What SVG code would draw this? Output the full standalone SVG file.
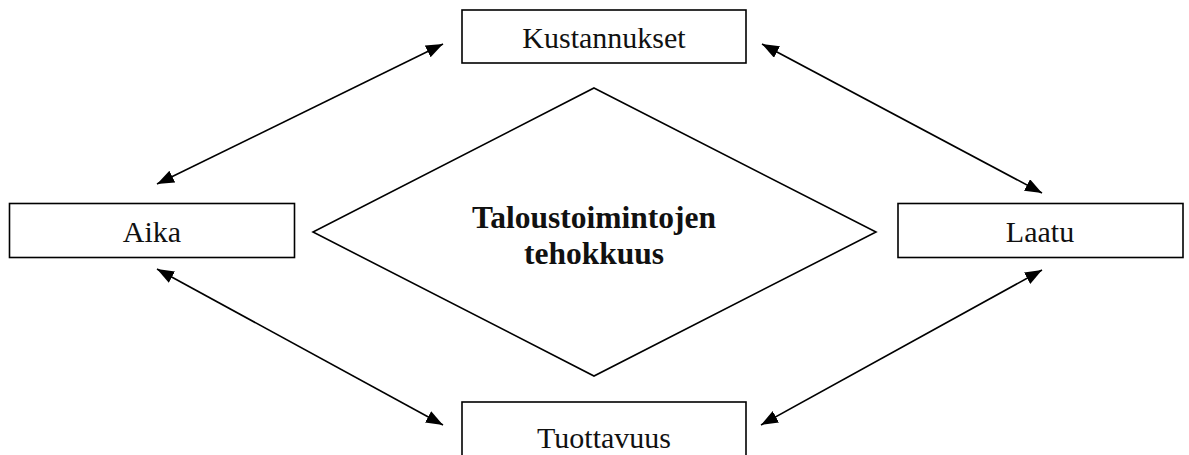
<svg xmlns="http://www.w3.org/2000/svg" width="1189" height="455" viewBox="0 0 1189 455">
  <style>
    .box { fill: #ffffff; stroke: #000000; stroke-width: 1.6; }
    .label { font-family: "Liberation Serif", "Times New Roman", serif; font-size: 30px; fill: #111111; text-anchor: middle; }
    .title { font-family: "Liberation Serif", "Times New Roman", serif; font-size: 31.5px; font-weight: bold; fill: #111111; text-anchor: middle; }
    .link { fill: none; stroke: #000000; stroke-width: 1.6; marker-start: url(#head); marker-end: url(#head); }
  </style>
  <defs>
    <marker id="head" markerUnits="userSpaceOnUse" markerWidth="18" markerHeight="14" refX="17" refY="6.5" orient="auto-start-reverse">
      <path d="M0,0 L17,6.5 L0,13 Z" fill="#000000"/>
    </marker>
  </defs>

  <!-- two-way relations between the four factors -->
  <g id="connectors">
    <line class="link" x1="157" y1="184" x2="443" y2="44"/>
    <line class="link" x1="762" y1="44" x2="1042" y2="193"/>
    <line class="link" x1="157" y1="269" x2="443" y2="425"/>
    <line class="link" x1="761" y1="425" x2="1042" y2="270"/>
  </g>

  <g id="center">
    <polygon points="594,88 876,232 594,376 313,232" fill="#ffffff" stroke="#000000" stroke-width="1.6"/>
    <text class="title" x="594" y="228">Taloustoimintojen</text>
    <text class="title" x="594" y="264">tehokkuus</text>
  </g>

  <g id="kustannukset">
    <rect class="box" x="462" y="10" width="284" height="53"/>
    <text class="label" x="604" y="48">Kustannukset</text>
  </g>

  <g id="aika">
    <rect class="box" x="9.5" y="203.5" width="285" height="54"/>
    <text class="label" x="152" y="242">Aika</text>
  </g>

  <g id="laatu">
    <rect class="box" x="898" y="203.5" width="285" height="54"/>
    <text class="label" x="1040" y="242">Laatu</text>
  </g>

  <g id="tuottavuus">
    <rect class="box" x="462" y="402" width="284" height="56"/>
    <text class="label" x="604" y="448">Tuottavuus</text>
  </g>
</svg>
